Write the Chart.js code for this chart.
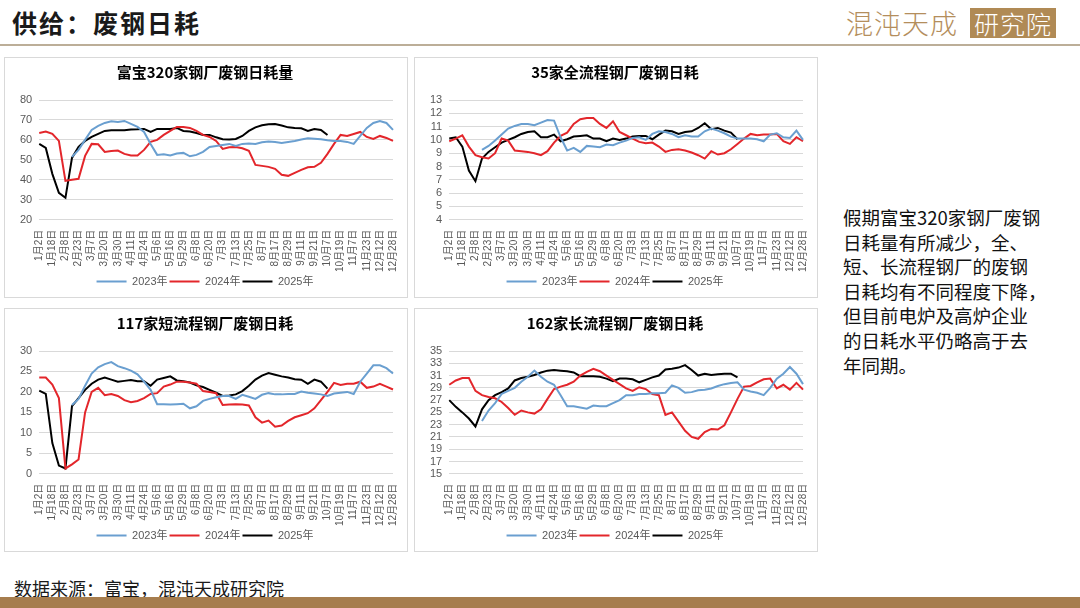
<!DOCTYPE html>
<html>
<head>
<meta charset="utf-8">
<script src="https://cdn.jsdelivr.net/npm/chart.js@4"></script>
<style>
  body { margin: 0; width: 1080px; height: 608px; background: #fff; position: relative; overflow: hidden;
         font-family: "Noto Sans CJK SC", sans-serif; }
  .head { position: absolute; left: 12px; top: 4px; font-size: 25px; font-weight: bold; color: #1a1a1a; letter-spacing: 2px; }
  .headline { position: absolute; left: 0; top: 44px; width: 1080px; height: 2px; background: #bcae98; }
  .logo { position: absolute; left: 846px; top: 8px; font-size: 27px; font-weight: 300; color: #b48e5c; letter-spacing: 1px; line-height: 30px; }
  .logo span { display: inline-block; background: #b08a55; color: #fff; padding: 0 4px; margin-left: 12px; font-size: 25px; }
  .box { position: absolute; border: 1px solid #d9d9d9; box-sizing: border-box; }
  .note { position: absolute; left: 843px; top: 205px; width: 225px; font-size: 18.5px; line-height: 24.6px; color: #111; }
  .src { position: absolute; left: 14px; top: 575px; font-size: 18px; color: #1a1a1a; }
  .bar { position: absolute; left: 0; top: 597px; width: 1080px; height: 11px; background: #a67d4e; }
</style>
</head>
<body>
<div class="head">供给：废钢日耗</div>
<div class="logo">混沌天成<span>研究院</span></div>
<div class="headline"></div>

<div class="box" style="left:4px;top:57px;width:404px;height:241px"><canvas id="c1"></canvas></div>
<div class="box" style="left:414px;top:57px;width:404px;height:241px"><canvas id="c2"></canvas></div>
<div class="box" style="left:4px;top:308px;width:404px;height:244px"><canvas id="c3"></canvas></div>
<div class="box" style="left:414px;top:308px;width:404px;height:244px"><canvas id="c4"></canvas></div>

<div class="note">假期富宝320家钢厂废钢<br>日耗量有所减少，全、<br>短、长流程钢厂的废钢<br>日耗均有不同程度下降，<br>但目前电炉及高炉企业<br>的日耗水平仍略高于去<br>年同期。</div>
<div class="src">数据来源：富宝，混沌天成研究院</div>
<div class="bar"></div>

<script>
// weekly categories, only every other one is shown on the axis
const weeks = ['1月2日','1月10日','1月18日','1月26日','2月8日','2月15日','2月23日','3月1日','3月7日','3月14日',
  '3月20日','3月25日','3月30日','4月5日','4月11日','4月18日','4月24日','4月30日','5月6日','5月11日',
  '5月16日','5月22日','5月29日','6月3日','6月8日','6月14日','6月20日','6月27日','7月3日','7月8日',
  '7月13日','7月19日','7月25日','8月1日','8月7日','8月12日','8月17日','8月23日','8月29日','9月5日',
  '9月11日','9月16日','9月21日','9月28日','10月7日','10月12日','10月19日','10月27日','11月7日','11月14日',
  '11月23日','12月1日','12月12日','12月20日','12月28日'];
const years = ['2023年', '2024年', '2025年'];

// 富宝320家钢厂废钢日耗量
const fb320_2023 = [null,null,null,null,null,51.5,55,60,65,67,68.5,69.3,69,69.5,68,66.5,64,58,52.5,52.8,
  52.2,53.2,53.5,51.8,52.5,54,56.5,57,57.5,58,57,58,58.2,58,58.8,59.2,59,58.5,59,59.5,
  60.2,60.8,60.6,60.3,59.8,59.5,59.5,59,58,62,66,68.5,69.5,68.5,65];
const fb320_2024 = [63.5,64.2,63,59.5,39.5,40,40.5,52,58,57.8,54,54.5,54.7,53,52.2,52.2,55,59,60,62.5,
  64.5,66.5,66.5,66,64.5,62.5,61.5,59.5,55.5,56.3,56.5,55.8,54.5,47.5,47,46.5,45.5,42.5,42,43.5,
  45,46.3,46.5,48.5,53,58,62.5,62,63,64,61.5,60.5,62,61,59.5];
const fb320_2025 = [58,56,43,33.5,31,51,56.5,59.5,61.5,63,64.5,64.8,64.8,64.8,65.2,65.3,65.5,64,65.5,65.5,
  65.5,66,64.5,64.2,63.5,62.5,62.5,61.3,60.3,60.2,60.5,62,64.5,66.3,67.3,67.8,68,67.2,66.3,66,
  65.8,64.5,65.5,65,62.5];

// 35家全流程钢厂废钢日耗
const full35_2023 = [null,null,null,null,null,9.25,9.55,9.95,10.4,10.85,11.05,11.2,11.2,11.1,11.3,11.5,11.45,10.2,9.2,9.4,
  9.1,9.55,9.5,9.45,9.65,9.6,9.8,9.95,10.15,10.2,10,10.45,10.65,10.6,10.45,10.2,10.35,10.25,10.25,10.65,
  10.85,10.7,10.5,10.25,10.1,10.1,10.1,10.05,9.9,10.4,10.5,10.2,10.15,10.7,10];
const full35_2024 = [9.9,10.1,10.35,9.5,8.85,8.7,8.6,9,10.1,9.95,9.2,9.15,9.1,9,8.85,9.15,9.8,10.3,10.55,11.2,
  11.55,11.65,11.65,11.2,10.9,11.4,10.6,10.35,10.1,9.85,9.75,9.8,9.5,9.1,9.25,9.3,9.2,9.05,8.85,8.6,
  9.15,8.9,9,9.3,9.7,10.1,10.45,10.35,10.4,10.4,10.45,9.9,9.7,10.2,9.9];
const full35_2025 = [10.1,10.2,9.5,7.7,6.9,8.6,9.1,9.45,9.8,10,10.2,10.45,10.6,10.65,10.2,10.2,10.4,9.9,10.05,10.25,
  10.3,10.35,10.1,10.1,9.9,10.1,10,10.1,10.25,10.3,10.3,10.05,10.4,10.7,10.65,10.45,10.6,10.65,10.9,11.25,
  10.8,10.9,10.7,10.55,10.05];

// 117家短流程钢厂废钢日耗
const short117_2023 = [null,null,null,null,null,16.8,18.3,21.5,24.5,26,26.8,27.3,26.3,25.8,25.2,24.3,22.5,20.5,17,17,
  16.9,17,17.1,16,16.5,17.8,18.3,18.7,19,19,18.3,19.3,18.8,18.3,19.3,19.7,19.4,19.4,19.5,19.5,
  20.1,19.8,19.6,19.4,19,19.6,19.8,20,19.5,22.5,24.5,26.5,26.5,25.8,24.5];
const short117_2024 = [23.5,23.5,21.8,18.5,1.3,2.3,3.5,15,20,21,19.2,19.5,19,18,17.5,17.8,18.5,19.5,19.7,21.3,
  21.8,22.5,22.5,22.3,22,20.2,20,19.7,16.8,16.9,17,16.9,16.7,13.8,12.5,13,11.5,11.8,12.9,13.8,
  14.3,14.8,16,18,20,22.2,21.7,22,22,22.5,21,21.3,22,21.3,20.6];
const short117_2025 = [20.3,19.5,7.5,2,1.3,16.5,18.5,20.5,22,23,23.5,23,22.5,22.7,22.9,22.6,22.6,21.5,23,23.4,
  23.8,22.8,22.6,22.3,21.6,21.2,20.5,19.8,19,19.1,19.4,20.2,21.5,23,24,24.6,24.2,23.8,23.5,23.1,
  23,22,23,22.5,20.8];

// 162家长流程钢厂废钢日耗
const long162_2023 = [null,null,null,null,null,23.6,25.3,26.5,28,28.5,29,30,30.8,31.8,30.8,30,29.5,27.8,26,26,
  25.8,25.6,26.1,26,26,26.5,27,27.8,27.8,28,28,28.1,28.1,28.2,29.4,29,28.2,28.3,28.6,28.7,
  28.9,29.3,29.6,29.8,29.9,28.7,28.4,28.2,27.8,29,30.5,31.3,32.4,31.3,29.6];
const long162_2024 = [29.5,30.2,30.6,30.6,28.5,27.8,27.5,27.3,26.7,25.7,24.6,25.3,25,24.8,25.5,27.2,28.8,29.2,29.5,30,
  31,31.6,32.1,31.7,31,30.3,29.6,28.9,28.5,29.1,28.8,28,27.8,24.6,25,23.5,22,21,20.7,21.8,
  22.3,22.2,22.9,25,27.2,29.2,29.3,29.9,30.4,30.5,28.9,29.5,28.7,29.8,28.7];
const long162_2025 = [27,25.9,25,24,22.7,25.5,27,27.8,28.3,28.9,30.2,30.6,30.8,31.1,31.5,31.8,31.9,31.8,31.7,31.5,
  30.9,30.9,30.9,30.8,30.5,30.1,30.5,30.5,30.4,29.9,30.3,30.7,31,32,32.1,32.3,32.7,31.9,31,31.3,
  31.1,31.2,31.3,31.3,30.7];

const colors = ['#6a9fd0', '#e3262b', '#000000'];
const tickFont = { family: '"Liberation Sans", "Noto Sans CJK SC", sans-serif', size: 11 };

function makeChart(id, title, yMin, yMax, yStep, series) {
  new Chart(document.getElementById(id), {
    type: 'line',
    data: {
      labels: weeks,
      datasets: series.map((s, i) => ({
        label: years[i],
        data: s,
        borderColor: colors[i],
        backgroundColor: colors[i],
        borderWidth: 2,
        pointRadius: 0,
        tension: 0
      }))
    },
    options: {
      responsive: true,
      maintainAspectRatio: false,
      animation: false,
      layout: { padding: { left: 8, right: 10, bottom: 0 } },
      plugins: {
        title: {
          display: true,
          text: title,
          color: '#000',
          font: { family: '"Noto Sans CJK SC", sans-serif', size: 15, weight: 'bold' },
          padding: { top: 5, bottom: 19 }
        },
        legend: {
          position: 'bottom',
          labels: {
            color: '#595959',
            font: tickFont,
            usePointStyle: true,
            pointStyle: 'line',
            pointStyleWidth: 30,
            padding: 2
          }
        },
        tooltip: { enabled: false }
      },
      scales: {
        x: {
          grid: { display: false },
          border: { display: false },
          ticks: {
            color: '#595959',
            font: { family: tickFont.family, size: 10 },
            autoSkip: false,
            minRotation: 90,
            maxRotation: 90,
            padding: 2,
            callback: (v, i) => i % 2 === 0 ? weeks[i] : ''
          }
        },
        y: {
          min: yMin,
          max: yMax,
          grid: { color: '#d9d9d9', drawTicks: false },
          border: { display: false },
          ticks: { stepSize: yStep, autoSkip: false, color: '#595959', font: tickFont, padding: 7 }
        }
      }
    }
  });
}

makeChart('c1', '富宝320家钢厂废钢日耗量', 20, 80, 10, [fb320_2023, fb320_2024, fb320_2025]);
makeChart('c2', '35家全流程钢厂废钢日耗', 4, 13, 1, [full35_2023, full35_2024, full35_2025]);
makeChart('c3', '117家短流程钢厂废钢日耗', 0, 30, 5, [short117_2023, short117_2024, short117_2025]);
makeChart('c4', '162家长流程钢厂废钢日耗', 15, 35, 2, [long162_2023, long162_2024, long162_2025]);
</script>
</body>
</html>
